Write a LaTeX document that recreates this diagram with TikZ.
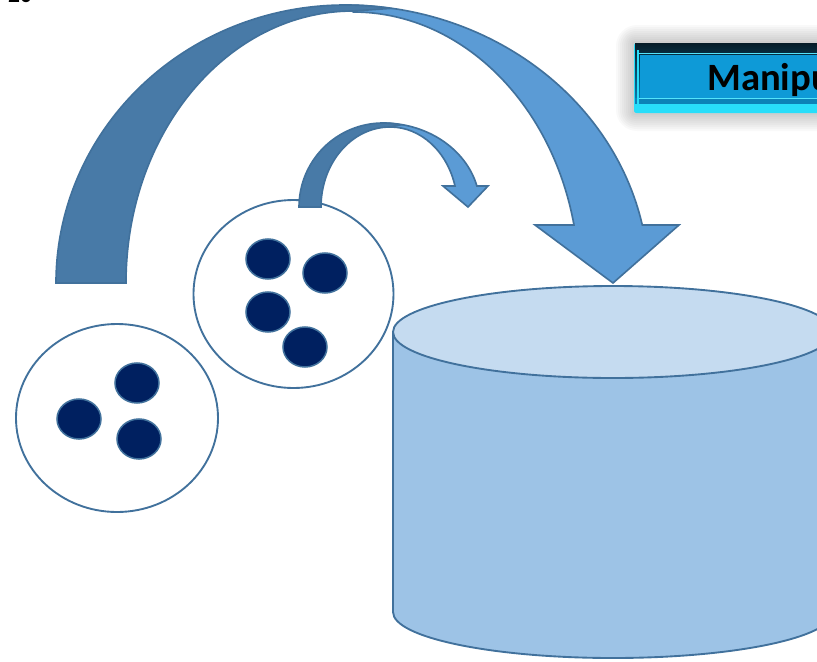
\documentclass[tikz,border=0pt]{standalone}
\usepackage{fontspec}
\newfontfamily\btnfont{Carlito}

\definecolor{rimblue}{RGB}{65,113,156}
\definecolor{bandback}{RGB}{72,122,167}
\definecolor{bandfront}{RGB}{91,155,213}
\definecolor{drumtop}{RGB}{197,219,240}
\definecolor{drumside}{RGB}{157,195,230}
\definecolor{beadnavy}{RGB}{0,32,96}
\definecolor{btnface}{RGB}{14,154,215}
\definecolor{btncyan}{RGB}{40,222,250}
\definecolor{btndark}{RGB}{6,28,40}

\begin{document}
\begin{tikzpicture}[x=0.3mm, y=0.3mm,
  rim/.style={draw=rimblue, line width=1.6pt},
  bead/.style={draw=rimblue, line width=1.3pt, fill=beadnavy},
  band/.style={draw=rimblue, line width=1.4pt}]

  \useasboundingbox (0,0) rectangle (817,-661);
  \clip (0,0) rectangle (817,-661);

  % slide number, cut by the top edge
  \node[anchor=base west, inner sep=0, font=\btnfont\bfseries\fontsize{20}{22}\selectfont]
    (slidenum) at (8,-2.5) {20};

  % button: soft shadow, dark top, cyan bottom rim
  \foreach \s in {2,4,...,18}
    \fill[black, opacity=0.025, rounded corners=\s] (634-\s,-43+\s) rectangle (850+\s,-113-\s);
  \fill[btncyan, rounded corners=2] (634,-43) rectangle (850,-113);
  \shade[top color=btndark, bottom color=btnface!80!black] (635,-43) rectangle (850,-100);
  \fill[btnface!85!black] (635,-98) rectangle (850,-104);
  \fill[btnface] (640,-55) rectangle (850,-98);
  \draw[btncyan!80!white, line width=0.8pt] (638,-53) -- (850,-53);
  \draw[btncyan!80!white, line width=0.8pt] (638,-98) -- (850,-98);
  \draw[btncyan, line width=1pt] (638,-50) -- (638,-107);
  \node[anchor=base west, inner sep=0, font=\btnfont\bfseries\fontsize{33}{36}\selectfont]
    (btnlabel) at (707,-90) {Manipu};

  % the drum
  \filldraw[rim, fill=drumside] (393,-332) -- (393,-612)
    arc[start angle=180, end angle=360, x radius=220, y radius=46] -- (833,-332) -- cycle;
  \filldraw[rim, fill=drumtop] (613,-332) ellipse [x radius=220, y radius=46];

  % the two sets of beads
  \filldraw[rim, fill=white] (117,-418) ellipse [x radius=101, y radius=94];
  \foreach \x/\y in {137/383, 79/419, 139/439}
    \filldraw[bead] (\x,-\y) ellipse [x radius=22, y radius=20];
  \filldraw[rim, fill=white] (293.5,-294) ellipse [x radius=100, y radius=94];
  \foreach \x/\y in {268/259, 325/273, 268/312, 305/347}
    \filldraw[bead] (\x,-\y) ellipse [x radius=22, y radius=20];

  % big curved arrow, front face first, back face over it
  \filldraw[band, fill=bandfront]
    (345,-5) arc[start angle=90, end angle=12.04, x radius=304, y radius=278]
    -- (679,-225) -- (613,-283) -- (535,-225) -- (574,-225)
    arc[start angle=12.36, end angle=90, x radius=226, y radius=271] -- cycle;
  \filldraw[band, fill=bandback]
    (56,-283) arc[start angle=180, end angle=81, x radius=289, y radius=278]
    -- (353,-11) arc[start angle=90, end angle=180, x radius=227, y radius=272] -- cycle;

  % small curved arrow
  \filldraw[band, fill=bandfront]
    (383,-123) arc[start angle=90, end angle=14.48, x radius=97, y radius=84]
    -- (488,-186) -- (468,-207) -- (443,-186) -- (455,-186)
    arc[start angle=15.22, end angle=90, x radius=67, y radius=80] -- cycle;
  \filldraw[band, fill=bandback]
    (299,-207) arc[start angle=180, end angle=78, x radius=84, y radius=84]
    -- (390,-127) arc[start angle=90, end angle=180, x radius=69, y radius=80] -- cycle;

\end{tikzpicture}
\end{document}
